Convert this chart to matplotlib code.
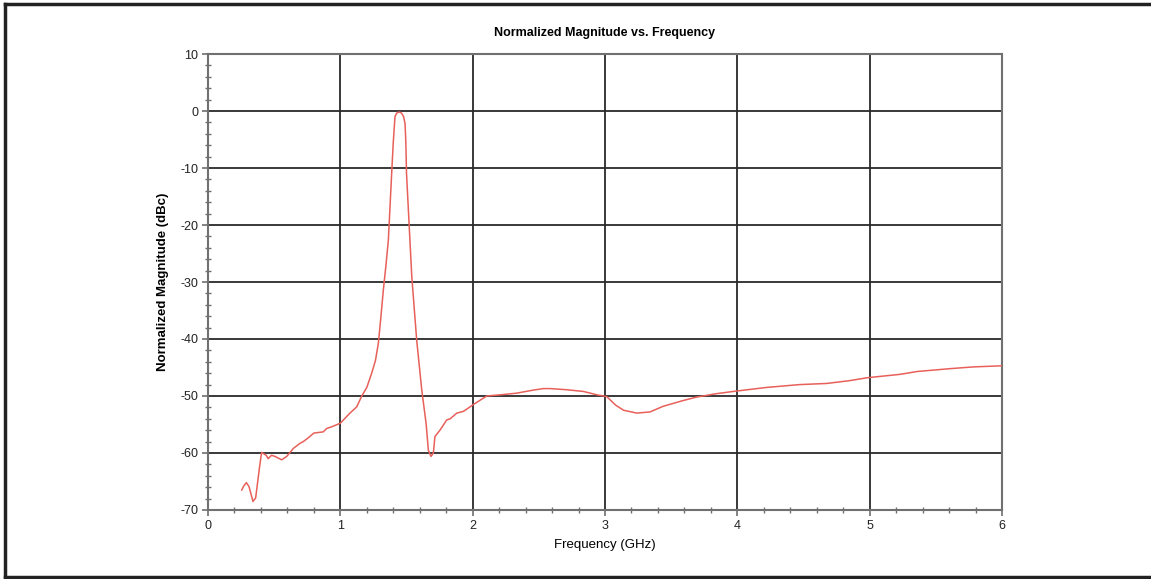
import matplotlib
matplotlib.use("Agg")
import matplotlib.pyplot as plt
from matplotlib.ticker import MultipleLocator
from matplotlib.lines import Line2D

freq_ghz = [0.255, 0.27, 0.29, 0.31, 0.34, 0.36, 0.39, 0.405, 0.44, 0.455, 0.48, 0.506,
            0.557, 0.595, 0.645, 0.695, 0.72, 0.76, 0.80, 0.87, 0.897, 0.935, 0.998,
            1.003, 1.048, 1.073, 1.124, 1.16, 1.20, 1.237, 1.265, 1.287, 1.305, 1.325,
            1.345, 1.363, 1.388, 1.40, 1.413, 1.425, 1.438, 1.45, 1.464, 1.478, 1.489,
            1.495, 1.50, 1.52, 1.54, 1.577, 1.615, 1.648, 1.665, 1.685, 1.703, 1.715,
            1.753, 1.804, 1.83, 1.88, 1.93, 1.98, 2.005, 2.106, 2.207, 2.333, 2.45,
            2.534, 2.585, 2.71, 2.836, 2.94, 3.013, 3.08, 3.14, 3.24, 3.34, 3.44, 3.59,
            3.69, 3.84, 3.97, 4.22, 4.47, 4.675, 4.85, 4.98, 5.23, 5.36, 5.61, 5.78, 6.0]
magnitude_dbc = [-66.5, -65.8, -65.2, -65.9, -68.5, -67.9, -62.4, -59.9, -60.4, -61.0,
                 -60.4, -60.6, -61.2, -60.6, -59.2, -58.3, -58.0, -57.3, -56.5, -56.3,
                 -55.7, -55.4, -54.8, -54.7, -53.6, -53.0, -51.9, -50.1, -48.5, -46.0,
                 -43.8, -40.8, -36.5, -31.4, -27.0, -22.6, -10.9, -5.5, -1.0, -0.4,
                 -0.2, -0.2, -0.4, -1.0, -2.2, -5.5, -10.9, -20.0, -29.1, -40.2, -48.9,
                 -54.8, -59.5, -60.6, -60.0, -57.1, -56.0, -54.2, -54.0, -53.0, -52.7,
                 -51.9, -51.5, -50.0, -49.8, -49.5, -49.0, -48.7, -48.7, -48.9, -49.2,
                 -49.8, -50.1, -51.6, -52.5, -53.0, -52.8, -51.8, -50.8, -50.2, -49.6,
                 -49.2, -48.5, -48.0, -47.8, -47.3, -46.8, -46.2, -45.7, -45.2, -44.9,
                 -44.7]

x_ticks = [0, 1, 2, 3, 4, 5, 6]
y_ticks = [10, 0, -10, -20, -30, -40, -50, -60, -70]

plt.rcParams['font.family'] = ['Liberation Sans', 'DejaVu Sans']
plt.rcParams['axes.unicode_minus'] = False

fig = plt.figure(figsize=(11.51, 5.79), dpi=100)
ax = fig.add_axes([0.1807, 0.1192, 0.6899, 0.7875])

ax.plot(freq_ghz, magnitude_dbc, color='#e8605a', lw=1.1, zorder=3)

ax.set_xlim(0, 6)
ax.set_ylim(-70, 10)
ax.set_xticks(x_ticks)
ax.set_yticks(y_ticks)
ax.xaxis.set_minor_locator(MultipleLocator(0.2))
ax.yaxis.set_minor_locator(MultipleLocator(2))
ax.grid(True, which='major', color='#2a2a2a', lw=1.3, zorder=1)
ax.set_axisbelow(True)
for s in ax.spines.values():
    s.set_color('#707070')
    s.set_linewidth(1.5)
ax.tick_params(which='major', direction='out', length=4, color='#707070',
               labelsize=9, labelcolor='#222222', width=1.2, pad=3)
ax.tick_params(which='minor', direction='inout', length=4, color='#707070', width=1)

ax.set_title('Normalized Magnitude vs. Frequency', fontsize=9, fontweight='bold', pad=13)
ax.set_xlabel('Frequency (GHz)', fontsize=9.5, labelpad=5)
ax.set_ylabel('Normalized Magnitude (dBc)', fontsize=9.5, fontweight='bold', labelpad=8)

# outer frame (top, left, bottom)
fig.add_artist(Line2D([0.0045, 1.0], [0.9925, 0.9925], transform=fig.transFigure, color='#222222', lw=2.5))
fig.add_artist(Line2D([0.0045, 0.0045], [0.9925, 0.0035], transform=fig.transFigure, color='#222222', lw=2.5))
fig.add_artist(Line2D([0.0045, 1.0], [0.0035, 0.0035], transform=fig.transFigure, color='#222222', lw=2.5))

fig.savefig('out.png', dpi=100)
